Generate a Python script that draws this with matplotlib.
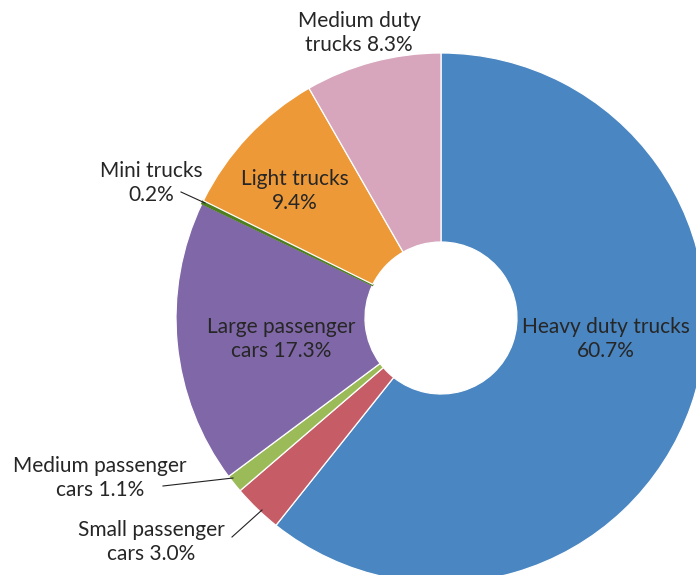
import matplotlib.pyplot as plt

# data
labels = ['Heavy duty trucks', 'Small passenger\ncars', 'Medium passenger\ncars',
          'Large passenger\ncars', 'Mini trucks\n', 'Light trucks\n', 'Medium duty\ntrucks']
shares = [60.7, 3.0, 1.1, 17.3, 0.2, 9.4, 8.3]
colors = ['#4A86C1', '#C65D66', '#9BBB59', '#8068A8', '#4E7F1F', '#EE9938', '#D7A6BC']

W, H = 696, 575
fig = plt.figure(figsize=(W / 100, H / 100), dpi=100)
ax = fig.add_axes([0, 0, 1, 1])

cx, cy, r = 441, H - 318, 265
wedges, _ = ax.pie(shares, colors=colors, startangle=90, counterclock=False,
                   center=(cx, cy), radius=r, frame=True,
                   wedgeprops=dict(width=r - 76, edgecolor='white', linewidth=0.9))
# tiny wedge keeps its own colour as outline so it stays visible
wedges[4].set_edgecolor(colors[4])
wedges[4].set_linewidth(1.2)
ax.set_xlim(0, W)
ax.set_ylim(0, H)
ax.set_aspect('equal')
ax.axis('off')

plt.rcParams['font.family'] = ['Lato', 'DejaVu Sans']
fs = 15
tc = '#262626'

def lab(i, x, y):
    sep = '' if labels[i].endswith('\n') else ' '
    if i == 0:
        sep = '\n'
    ax.text(x, H - y, f"{labels[i]}{sep}{shares[i]:.1f}%", ha='center', va='center',
            fontsize=fs, color=tc, linespacing=1.2)

lab(0, 606, 339)
lab(1, 151, 542)
lab(2, 100, 478)
lab(3, 281, 339)
lab(4, 151, 183)
lab(5, 295, 191)
lab(6, 359, 33)

# leader lines
ax.plot([163, 233], [H - 486, H - 478], color='#222222', lw=0.8)
ax.plot([232, 262], [H - 537, H - 510], color='#222222', lw=0.8)
ax.plot([181, 205], [H - 192, H - 203], color='#222222', lw=0.8)

fig.savefig('out.png', dpi=100)
